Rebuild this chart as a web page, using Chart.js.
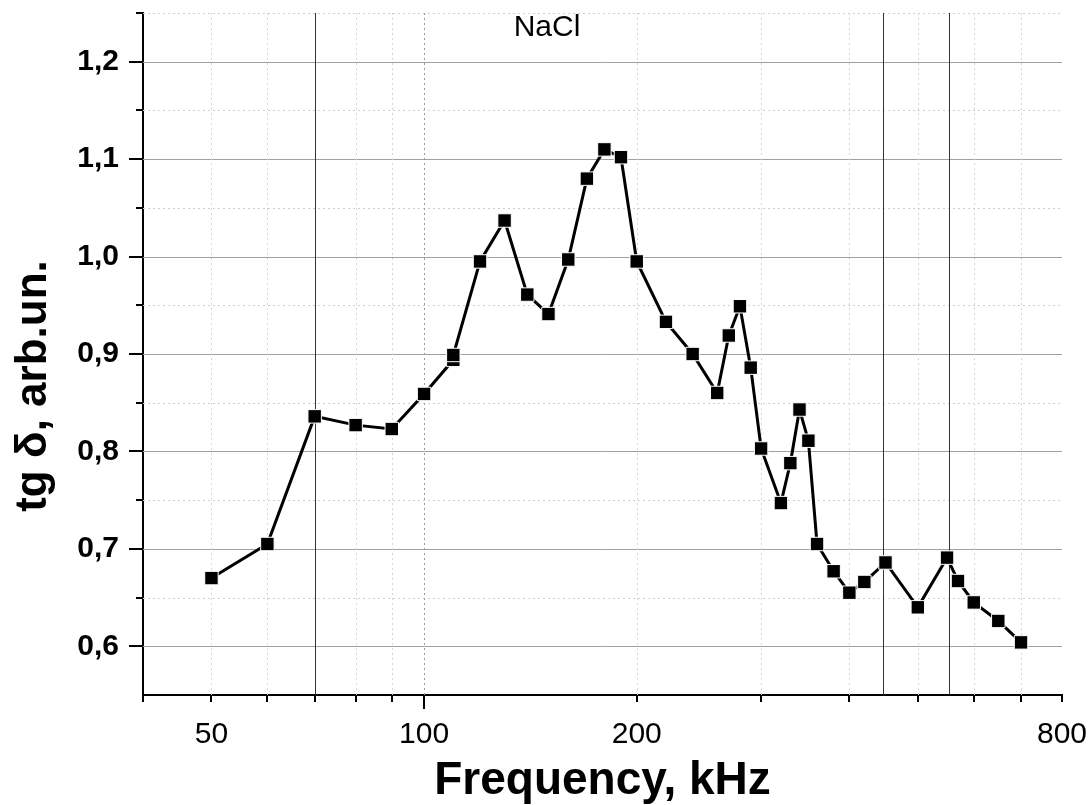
<!DOCTYPE html>
<html>
<head>
<meta charset="utf-8">
<script src="https://cdn.jsdelivr.net/npm/chart.js@4.4.1/dist/chart.umd.min.js"></script>
<style>
  html, body { margin: 0; padding: 0; background: #fff; }
</style>
</head>
<body>
<canvas id="tgChart" width="1089" height="805"></canvas>
<script>
// NaCl, tg delta vs frequency (kHz)
const freqKHz = [50, 60, 70, 80, 90, 100, 110, 110, 120, 130, 140, 150, 160, 170, 180, 190, 200,
  220, 240, 260, 270, 280, 290, 300, 320, 330, 340, 350, 360, 380, 400, 420, 450, 500, 550, 570,
  600, 650, 700];
const tgDelta = [0.670, 0.705, 0.836, 0.827, 0.823, 0.859, 0.894, 0.899, 0.995, 1.037, 0.961, 0.941,
  0.997, 1.080, 1.110, 1.102, 0.995, 0.933, 0.900, 0.860, 0.919, 0.949, 0.886, 0.803, 0.747, 0.788,
  0.843, 0.811, 0.705, 0.677, 0.655, 0.666, 0.686, 0.640, 0.691, 0.667, 0.645, 0.626, 0.604];

const xTickValues = [40, 50, 60, 70, 80, 90, 100, 200, 300, 400, 500, 600, 700, 800];
const xTickLabels = [50, 100, 200, 800];
const yTickValues = [0.6, 0.65, 0.7, 0.75, 0.8, 0.85, 0.9, 0.95, 1.0, 1.05, 1.1, 1.15, 1.2, 1.25];
const yTickLabels = [0.6, 0.7, 0.8, 0.9, 1.0, 1.1, 1.2];
const refLinesKHz = [70, 447, 554];

const FONT = '"Liberation Sans", Arial, sans-serif';
const isLabelledY = v => yTickLabels.includes(+v.toFixed(2));

const noPad = s => { s.paddingTop = 0; s.paddingBottom = 0; s.paddingLeft = 0; s.paddingRight = 0; };

// grid, tick marks and titles drawn against the chart's own scales
const framePlugin = {
  id: 'frame',
  beforeDatasetsDraw(chart) {
    const { ctx, chartArea: a, scales: { x, y } } = chart;
    ctx.save();
    ctx.lineWidth = 1;

    // horizontal grid
    yTickValues.forEach(v => {
      const py = Math.round(y.getPixelForValue(v)) + 0.5;
      if (isLabelledY(v)) {
        ctx.strokeStyle = '#a0a0a0';
        ctx.setLineDash([]);
      } else {
        ctx.strokeStyle = '#cfcfcf';
        ctx.setLineDash([2, 3]);
      }
      ctx.beginPath();
      ctx.moveTo(a.left, py);
      ctx.lineTo(a.right, py);
      ctx.stroke();
    });

    // vertical grid
    xTickValues.forEach(v => {
      if (v === 40 || v === 800) return;
      const px = Math.round(x.getPixelForValue(v)) + 0.5;
      ctx.strokeStyle = v === 100 ? '#9a9a9a' : '#d6d6d6';
      ctx.setLineDash([2, 3]);
      ctx.beginPath();
      ctx.moveTo(px, a.top);
      ctx.lineTo(px, a.bottom);
      ctx.stroke();
    });

    // reference lines
    ctx.setLineDash([]);
    ctx.strokeStyle = '#333';
    refLinesKHz.forEach(v => {
      const px = Math.round(x.getPixelForValue(v)) + 0.5;
      ctx.beginPath();
      ctx.moveTo(px, a.top);
      ctx.lineTo(px, a.bottom);
      ctx.stroke();
    });
    ctx.restore();
  },
  afterDraw(chart) {
    const { ctx, chartArea: a, scales: { x, y } } = chart;
    ctx.save();
    ctx.strokeStyle = '#000';
    ctx.lineWidth = 2;
    ctx.beginPath();
    xTickValues.forEach(v => {
      const px = Math.round(x.getPixelForValue(v));
      ctx.moveTo(px, a.bottom);
      ctx.lineTo(px, a.bottom + (v === 100 ? 14 : 7));
    });
    yTickValues.forEach(v => {
      const py = Math.round(y.getPixelForValue(v));
      ctx.moveTo(a.left, py);
      ctx.lineTo(a.left - (isLabelledY(v) ? 14 : 7), py);
    });
    ctx.stroke();

    ctx.fillStyle = '#000';
    ctx.textAlign = 'center';
    ctx.textBaseline = 'alphabetic';
    ctx.font = 'bold 46px ' + FONT;
    ctx.fillText('Frequency, kHz', (a.left + a.right) / 2, 794);

    ctx.font = '30px ' + FONT;
    ctx.fillText('NaCl', 547, 36);

    ctx.translate(46, 386);
    ctx.rotate(-Math.PI / 2);
    ctx.font = 'bold 44px ' + FONT;
    ctx.fillText('tg \u03b4, arb.un.', 0, 0);
    ctx.restore();
  }
};

const points = freqKHz.map((f, i) => ({ x: f, y: tgDelta[i] }));

new Chart(document.getElementById('tgChart'), {
  type: 'line',
  data: {
    datasets: [{
      label: 'NaCl',
      data: points,
      borderColor: '#000',
      borderWidth: 3,
      tension: 0,
      pointStyle: 'rect',
      pointRadius: 9.5,
      pointBackgroundColor: '#000',
      pointBorderColor: '#fff',
      pointBorderWidth: 1
    }]
  },
  options: {
    responsive: false,
    animation: false,
    devicePixelRatio: 1,
    layout: { autoPadding: false, padding: { top: 13, right: 27, left: 0, bottom: 0 } },
    plugins: { legend: { display: false }, tooltip: { enabled: false } },
    scales: {
      x: {
        type: 'logarithmic',
        min: 40,
        max: 800,
        afterBuildTicks: s => { s.ticks = xTickValues.map(v => ({ value: v })); },
        afterFit: s => { s.height = 110; noPad(s); },
        grid: { display: false, drawTicks: false },
        border: { display: true, color: '#000', width: 2 },
        ticks: {
          autoSkip: false,
          maxRotation: 0,
          padding: 22,
          color: '#000',
          font: { family: FONT, size: 30 },
          callback: v => xTickLabels.includes(v) ? String(v) : ''
        }
      },
      y: {
        type: 'linear',
        min: 0.55,
        max: 1.25,
        afterBuildTicks: s => { s.ticks = yTickValues.map(v => ({ value: v })); },
        afterFit: s => { s.width = 143; noPad(s); },
        grid: { display: false, drawTicks: false },
        border: { display: true, color: '#000', width: 2 },
        ticks: {
          autoSkip: false,
          padding: 24,
          color: '#000',
          font: { family: FONT, size: 30, weight: 'bold' },
          callback: v => isLabelledY(v) ? v.toFixed(1).replace('.', ',') : ''
        }
      }
    }
  },
  plugins: [framePlugin]
});
</script>
</body>
</html>
